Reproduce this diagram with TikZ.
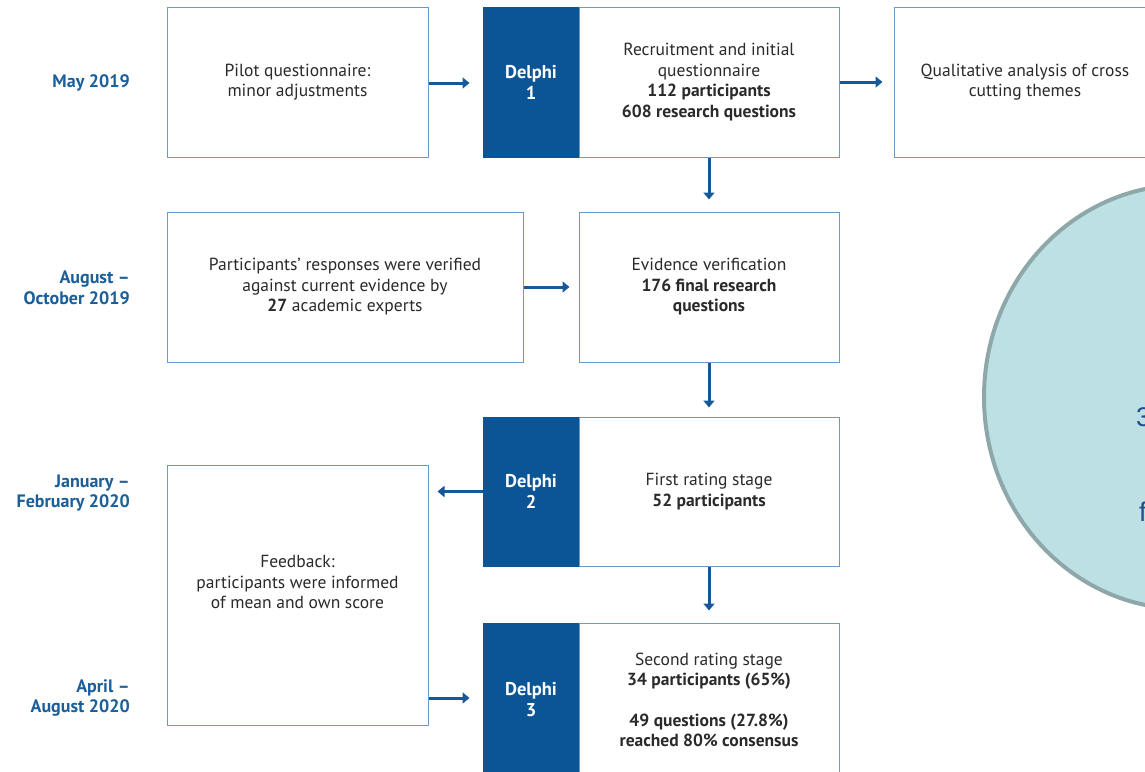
\documentclass[tikz,border=0pt]{standalone}
\usepackage{fontspec}
\setmainfont{PT Sans}
\newfontfamily\circfont{Liberation Sans}
\usetikzlibrary{arrows.meta}
\definecolor{dblue}{HTML}{0B5496}
\definecolor{dateblue}{HTML}{1A5E9A}
\definecolor{arrblue}{HTML}{17589A}
\definecolor{boxline}{HTML}{6C9AC4}
\definecolor{txt}{HTML}{2A2A2A}
\definecolor{circfill}{HTML}{BDE0E4}
\definecolor{circline}{HTML}{8EA7A9}
\definecolor{circtxt}{HTML}{1F4E8F}
\begin{document}
\begin{tikzpicture}[x=1pt,y=-1pt,
  wbox/.style={draw=boxline, line width=1pt, fill=white, inner sep=0pt,
    align=center, font=\fontsize{17.5}{20.5}\selectfont, text=txt},
  dbox/.style={fill=dblue, draw=dblue, line width=1pt, inner sep=0pt, minimum width=96pt,
    minimum height=150pt, align=center, text=white, font=\fontsize{18.5}{21}\selectfont\bfseries},
  datelbl/.style={anchor=east, align=right, inner sep=0pt, text=dateblue,
    font=\fontsize{18}{20.5}\selectfont\bfseries},
  plain/.style={inner sep=0pt, align=center, text=txt, font=\fontsize{17.5}{20.5}\selectfont},
  flow/.style={draw=arrblue, line width=3pt, -{Triangle[length=7pt,width=11pt]}},
  circletxt/.style={anchor=west, inner sep=0pt, text=circtxt, font=\circfont\fontsize{27}{30}\selectfont}
]
\useasboundingbox (0,0) rectangle (1145,771);
\clip (0,0) rectangle (1145,771);
\fill[white] (0,0) rectangle (1145,771);

% ellipse on the right
\draw[circline, fill=circfill, line width=4pt] (1184,397) ellipse [x radius=200, y radius=212];
\node[circletxt] (c3) at (1136,417) {3};
\node[circletxt] (cf) at (1139,512) {f};

% dates
\node[datelbl] (t1) at (130,83) {May 2019};
\node[datelbl] (t2) at (130,288) {August –\\October 2019};
\node[datelbl] (t3) at (130,493) {January –\\February 2020};
\node[datelbl] (t4) at (130,698) {April –\\August 2020};

% row 1
\node[wbox, minimum width=261pt, minimum height=150pt] (pilot) at (297.5,82) {Pilot questionnaire:\\minor adjustments};
\node[dbox] (d1) at (531,82) {Delphi\\1};
\node[wbox, minimum width=260pt, minimum height=150pt] (r1) at (709,82)
  {Recruitment and initial\\questionnaire\\\textbf{112 participants}\\\textbf{608 research questions}};
\node[wbox, minimum width=262pt, minimum height=150pt] (q) at (1025,82) {Qualitative analysis of cross\\cutting themes};

% row 2
\node[wbox, minimum width=356pt, minimum height=150pt] (p) at (345,287)
  {Participants’ responses were verified\\against current evidence by\\\textbf{27} academic experts};
\node[wbox, minimum width=260pt, minimum height=150pt] (e) at (709,287)
  {Evidence verification\\\textbf{176 final research}\\\textbf{questions}};

% row 3
\node[dbox, minimum height=149pt] (d2) at (531,491.5) {Delphi\\2};
\node[wbox, minimum width=260pt, minimum height=149pt] (f1) at (709,491.5) {First rating stage\\\textbf{52 participants}};

% feedback
\node[wbox, minimum width=261pt, minimum height=260pt] (fb) at (297.5,595) {};
\node[plain] (fbt) at (297.5,582) {Feedback:\\participants were informed\\of mean and own score};

% row 4
\node[dbox, minimum height=154pt] (d3) at (531,700) {Delphi\\3};
\node[wbox, minimum width=260pt, minimum height=154pt] (s) at (709,700)
  {Second rating stage\\\textbf{34 participants (65\%)}\\[20pt]\textbf{49 questions (27.8\%)}\\\textbf{reached 80\% consensus}};

% connectors
\draw[flow, shorten >=13pt] (pilot.east |- 0,83) -- (d1.west |- 0,83);
\draw[flow, shorten >=11pt] (r1.east) -- (q.west);
\draw[flow, shorten >=12pt] (r1.south) -- (e.north);
\draw[flow, shorten >=9pt] (p.east) -- (e.west);
\draw[flow, shorten >=9pt] (e.south) -- (f1.north);
\draw[flow, shorten >=9pt] (d2.west) -- (fb.east |- d2.west);
\draw[flow, shorten >=12pt] (f1.south) -- (s.north);
\draw[flow, shorten >=13pt] (fb.east |- 0,698) -- (d3.west |- 0,698);
\end{tikzpicture}
\end{document}
